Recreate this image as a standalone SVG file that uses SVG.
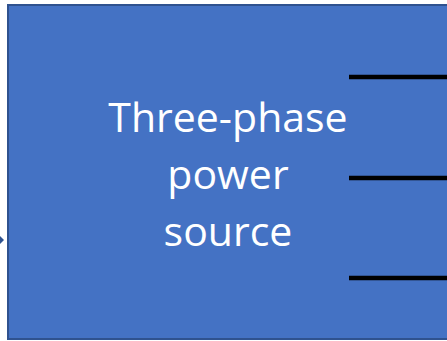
<svg xmlns="http://www.w3.org/2000/svg" width="447" height="341" viewBox="0 0 447 341">
  <style>
    .box { fill: #4472C4; stroke: #2F528F; stroke-width: 2; }
    .label { fill: #FFFFFF; font-family: "Open Sans", "Noto Sans", "Liberation Sans", sans-serif; font-size: 41px; text-anchor: middle; }
    .wire { stroke: #000000; stroke-width: 4.5; }
    .tip { fill: #2F528F; }
  </style>
  <g id="source">
    <rect class="box" x="8" y="5" width="450" height="334"/>
    <text class="label" x="228" y="132">Three-phase</text>
    <text class="label" x="228" y="189">power</text>
    <text class="label" x="228" y="246">source</text>
  </g>
  <g id="connectors">
    <line class="wire" x1="349" y1="77" x2="447" y2="77"/>
    <line class="wire" x1="349" y1="178" x2="447" y2="178"/>
    <line class="wire" x1="349" y1="278" x2="447" y2="278"/>
    <polygon class="tip" points="0,236 4,240 0,244"/>
  </g>
</svg>
